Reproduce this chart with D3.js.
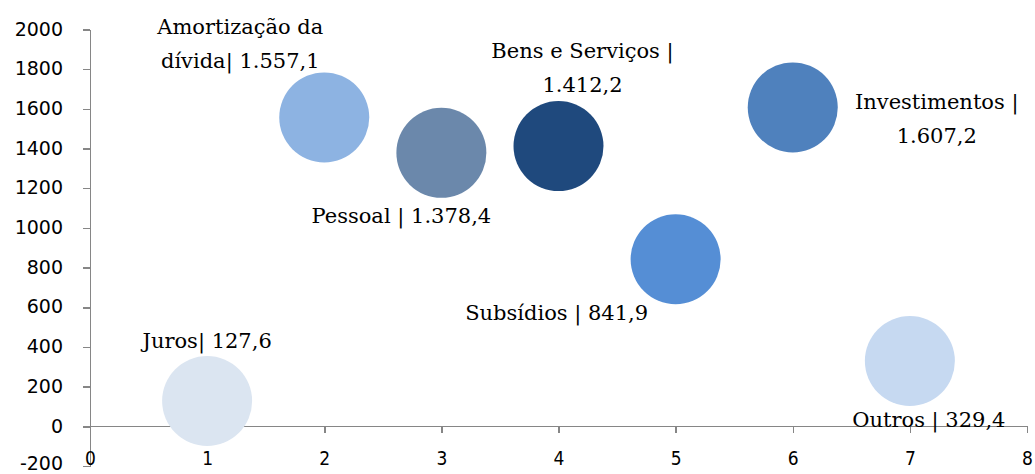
<!DOCTYPE html>
<html>
<head>
<meta charset="utf-8">
<script src="https://cdn.jsdelivr.net/npm/d3@7"></script>
<style>
  html, body { margin: 0; padding: 0; background: #fff; }
  .axis path, .axis line { stroke: #868686; stroke-width: 1.5; shape-rendering: crispEdges; }
  .y-axis text { font-family: "DejaVu Sans", sans-serif; font-size: 19px; fill: #000; }
  .x-axis text { font-family: "DejaVu Sans Condensed", "DejaVu Sans", sans-serif; font-size: 19px; fill: #000; }
  .bubble-label { font-family: "DejaVu Serif", serif; font-size: 21px; fill: #000; }
</style>
</head>
<body>
<svg id="chart" width="1035" height="474"></svg>
<script>
(function () {
    'use strict';

    // data
    var categories = ['Juros', 'Amortização da dívida', 'Pessoal', 'Bens e Serviços', 'Subsídios', 'Investimentos', 'Outros'];
    var xValues = [1, 2, 3, 4, 5, 6, 7];
    var yValues = [127.6, 1557.1, 1378.4, 1412.2, 841.9, 1607.2, 329.4];
    var sizes = [1, 1, 1, 1, 1, 1, 1];
    var labelLines = [
        ['Juros| 127,6'],
        ['Amortização da', 'dívida| 1.557,1'],
        ['Pessoal | 1.378,4'],
        ['Bens e Serviços |', '1.412,2'],
        ['Subsídios | 841,9'],
        ['Investimentos |', '1.607,2'],
        ['Outros | 329,4']
    ];
    var yTicks = [-200, 0, 200, 400, 600, 800, 1000, 1200, 1400, 1600, 1800, 2000];
    var xTicks = [0, 1, 2, 3, 4, 5, 6, 7, 8];

    // styling / layout (not data)
    var colors = ['#dbe5f1', '#8db3e2', '#6b88ab', '#1f497d', '#558ed5', '#4f81bd', '#c6d9f1'];
    // offset of label (centre x, baseline of last line) from bubble centre
    var labelOffsets = [
        [0, -53], [-84, -49], [-40, 70], [24, -54], [-119, 61], [144, 36], [19, 66]
    ];
    var lineHeight = 34;

    var svg = d3.select('#chart');

    var x = d3.scaleLinear().domain([0, 8]).range([90, 1027]);
    var y = d3.scaleLinear().domain([-200, 2000]).range([466, 29.5]);
    var r = d3.scaleSqrt().domain([0, d3.max(sizes)]).range([0, 45]);

    var plain = function (v) { return String(v); };

    // y axis
    svg.append('g')
        .attr('class', 'axis y-axis')
        .attr('transform', 'translate(' + x(0) + ',0)')
        .call(d3.axisLeft(y).tickValues(yTicks).tickFormat(plain).tickSize(7).tickPadding(20).tickSizeOuter(0))
        .call(function (g) {
            g.selectAll('text').attr('dy', function (d) { return d < 0 ? '0.18em' : '0.3em'; });
        });

    // x axis at y = 0
    svg.append('g')
        .attr('class', 'axis x-axis')
        .attr('transform', 'translate(0,' + y(0) + ')')
        .call(d3.axisBottom(x).tickValues(xTicks).tickFormat(plain).tickSize(7).tickPadding(18).tickSizeOuter(0))
        .call(function (g) { g.select('.domain').attr('d', 'M' + x(0) + ',0H' + x(8)); });

    var points = categories.map(function (c, i) {
        return { name: c, x: xValues[i], y: yValues[i], size: sizes[i], color: colors[i], lines: labelLines[i], off: labelOffsets[i] };
    });

    // bubbles
    svg.append('g')
        .selectAll('circle')
        .data(points)
        .enter()
        .append('circle')
        .attr('cx', function (d) { return x(d.x); })
        .attr('cy', function (d) { return y(d.y); })
        .attr('r', function (d) { return r(d.size); })
        .style('fill', function (d) { return d.color; });

    // labels
    svg.append('g')
        .selectAll('text')
        .data(points)
        .enter()
        .append('text')
        .attr('class', 'bubble-label')
        .attr('text-anchor', 'middle')
        .each(function (d) {
            var t = d3.select(this);
            var cx = x(d.x) + d.off[0];
            var base = y(d.y) + d.off[1];
            var n = d.lines.length;
            d.lines.forEach(function (line, k) {
                t.append('tspan')
                    .attr('x', cx)
                    .attr('y', base - (n - 1 - k) * lineHeight)
                    .text(line);
            });
        });
}());
</script>
</body>
</html>
